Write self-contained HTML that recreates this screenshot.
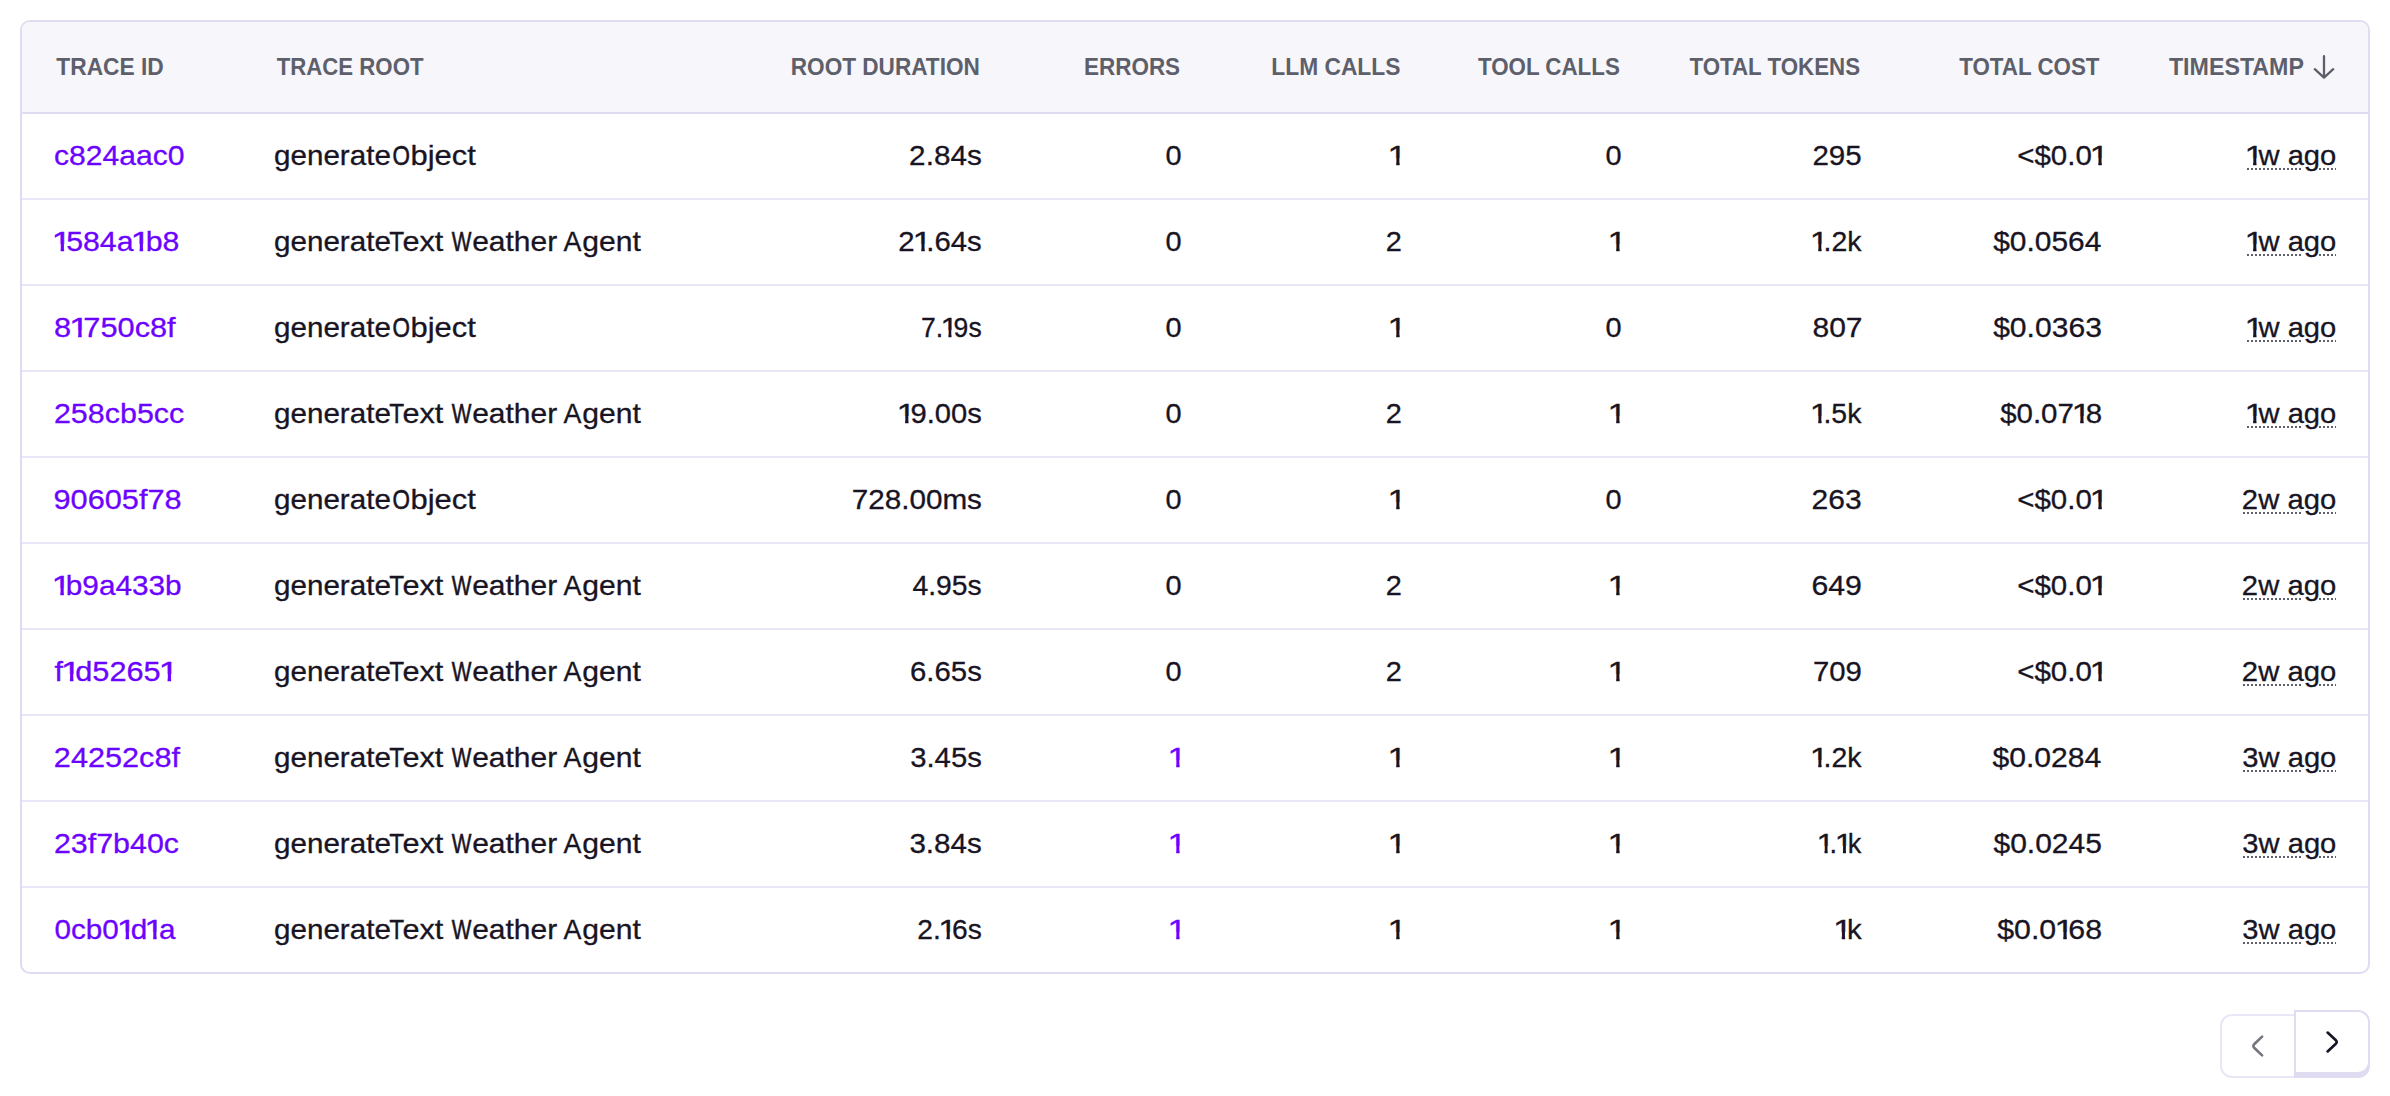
<!DOCTYPE html>
<html lang="en">
<head>
<meta charset="utf-8">
<meta name="viewport" content="width=device-width, initial-scale=1">
<title>Traces</title>
<style>
*{box-sizing:border-box;margin:0;padding:0}
html,body{width:2390px;height:1096px;background:#fff;overflow:hidden}
@media (min-resolution:2dppx) and (max-width:1200px){html{zoom:.5}}
body{font-family:"Liberation Sans",sans-serif;font-size:28px;color:#181423}
a{color:inherit;text-decoration:none}
.page{position:relative;width:2390px;height:1096px}
.panel{position:absolute;left:20px;top:20px;width:2350px;height:954px;border:2px solid #dfdcf1;border-radius:10px;overflow:hidden;background:#fff}
.grid{width:2346px;border-collapse:separate;border-spacing:0;table-layout:fixed}
.grid th,.grid td{padding:0;white-space:nowrap;vertical-align:top;font-weight:400;text-align:left}
.cell{display:flex;align-items:flex-start;justify-content:flex-start;padding:0 32px;white-space:nowrap}
.num .cell{justify-content:flex-end}
.grid th{height:92px;background:#f7f6fb;border-bottom:2px solid #dfdcf1}
.grid th .cell{height:90px;line-height:90px;font-size:24px;font-weight:700;text-transform:uppercase;color:#5d606b}
.grid td{height:86px;border-bottom:2px solid #e9e6f7}
.grid td .cell{height:84px;line-height:84px;-webkit-text-stroke:0.3px currentColor}
.grid tbody tr:last-child td{border-bottom:0;height:84px}
.t{display:block;flex:none;transform-origin:0 51px;white-space:nowrap}
.num .t{transform-origin:100% 51px}
.t + .t{margin-left:9px}
.cap{-webkit-text-stroke-width:0.6px}
.link{color:#6b03ff}
.d1{display:inline-block;width:11.2px;height:84px;vertical-align:baseline;transform-origin:0 0;transform:translateX(-2.25px) scaleX(1.2);clip-path:polygon(-4px 0,18px 0,18px 44px,9.62px 44px,9.62px 60px,6.94px 60px,6.94px 44px,-4px 44px)}
.ts .cell{--dots:repeating-linear-gradient(90deg,#5d606b 0,#5d606b 2px,transparent 2px,transparent 4px);background:var(--dots) right 0 top 54px/17px 2px no-repeat content-box,var(--dots) right 33px top 54px/calc(var(--w) - 33px) 2px no-repeat content-box}
.arrow{display:block;flex:none;margin:33px 0 0 8px;fill:none;stroke:#5d606b;stroke-width:2.3;stroke-linecap:round;stroke-linejoin:round}
.pager{position:absolute;left:2220px;top:1010px;width:150px;height:68px}
.pbtn{position:absolute;display:block;appearance:none;-webkit-appearance:none;font:inherit;background:#fff;cursor:pointer}
.pbtn svg{position:absolute;fill:none;stroke-width:2.7;stroke-linecap:round;stroke-linejoin:round}
.prev{left:0;top:4px;width:76px;height:64px;border:2px solid #e9e6f7;border-right:0;border-radius:12px 0 0 12px}
.prev svg{left:22px;top:16px;stroke:#757780}
.next{left:74px;top:0;width:76px;height:64px;border:2px solid #dfdcf1;border-radius:0 12px 12px 0;box-shadow:0 4px 0 0 #dfdcf1}
.next svg{left:22px;top:16px;stroke:#181423}
</style>
</head>
<body>
<main class="page">
<div class="panel">
<table class="grid">
<colgroup><col style="width:220px"><col style="width:530px"><col style="width:240px"><col style="width:200px"><col style="width:220px"><col style="width:220px"><col style="width:240px"><col style="width:240px"><col style="width:236px"></colgroup>
<thead>
<tr>
<th class="txt"><div class="cell"><span class="t" style="transform:translateX(2.34px) scaleX(0.9482)">TRACE ID</span></div></th>
<th class="txt"><div class="cell"><span class="t" style="transform:translateX(2.70px) scaleX(0.9251)">TRACE ROOT</span></div></th>
<th class="num"><div class="cell"><span class="t" style="transform:translateX(-0.06px) scaleX(0.9412)">ROOT DURATION</span></div></th>
<th class="num"><div class="cell"><span class="t" style="transform:translateX(0.41px) scaleX(0.9360)">ERRORS</span></div></th>
<th class="num"><div class="cell"><span class="t" style="transform:translateX(0.40px) scaleX(0.9493)">LLM CALLS</span></div></th>
<th class="num"><div class="cell"><span class="t" style="transform:translateX(-0.67px) scaleX(0.9302)">TOOL CALLS</span></div></th>
<th class="num"><div class="cell"><span class="t" style="transform:translateX(0.47px) scaleX(0.9295)">TOTAL TOKENS</span></div></th>
<th class="num"><div class="cell"><span class="t" style="transform:translateX(-0.21px) scaleX(0.9306)">TOTAL COST</span></div></th>
<th class="num" aria-sort="descending"><div class="cell"><span class="t" style="transform:translateX(0.39px) scaleX(0.9675)">TIMESTAMP</span><svg class="arrow" viewBox="0 0 24 24" width="24" height="24" aria-hidden="true"><path d="M12 1.2V22.7M2.8 14.2L12 22.7L21.2 14.2"/></svg></div></th>
</tr>
</thead>
<tbody>
<tr>
<td class="txt"><div class="cell"><a class="t link" href="#" style="transform:translateX(-0.05px) scale(1.0756,1.015)">c824aac0</a></div></td>
<td class="txt"><div class="cell"><span class="t" style="transform:translateX(-0.00px) scaleX(1.0574)">generate</span><span class="t cap" style="transform:translateX(-1.55px) scaleX(0.8009)">O</span><span class="t" style="transform:translateX(-13.52px) scaleX(1.1057)">bject</span></div></td>
<td class="num"><div class="cell"><span class="t" style="transform:translateX(1.33px) scale(1.0615,1.015)">2.84s</span></div></td>
<td class="num"><div class="cell"><span class="t" style="transform:translateX(1.90px) scale(1.0319,1.015)">0</span></div></td>
<td class="num"><div class="cell"><span class="t" style="transform:translateX(1.35px) scale(1.0404,1.015)"><span class="d1">1</span></span></div></td>
<td class="num"><div class="cell"><span class="t" style="transform:translateX(1.90px) scale(1.0319,1.015)">0</span></div></td>
<td class="num"><div class="cell"><span class="t" style="transform:translateX(1.99px) scale(1.0542,1.015)">295</span></div></td>
<td class="num"><div class="cell"><span class="t" style="transform:translateX(3.54px) scale(1.0523,1.015)">&lt;$0.0<span class="d1">1</span></span></div></td>
<td class="num ts"><div class="cell" style="--w:89px"><time class="t ago" style="transform:translateX(0.39px) scale(1.0416,1.015)"><span class="d1">1</span>w ago</time></div></td>
</tr>
<tr>
<td class="txt"><div class="cell"><a class="t link" href="#" style="transform:translateX(0.04px) scale(1.0822,1.015)"><span class="d1">1</span>584a<span class="d1">1</span>b8</a></div></td>
<td class="txt"><div class="cell"><span class="t" style="transform:translateX(-0.00px) scaleX(1.0574)">generate</span><span class="t" style="transform:translateX(-4.75px) scaleX(0.8725)">T</span><span class="t" style="transform:translateX(-17.62px) scaleX(1.0950)">ext</span> <span class="t cap" style="transform:translateX(-14.37px) scaleX(0.7446)">W</span><span class="t" style="transform:translateX(-28.83px) scaleX(1.0700)">eather</span> <span class="t" style="transform:translateX(-26.61px) scaleX(0.9620)">A</span><span class="t" style="transform:translateX(-35.64px) scaleX(1.0754)">gent</span></div></td>
<td class="num"><div class="cell"><span class="t" style="transform:translateX(2.07px) scale(1.0489,1.015)">2<span class="d1">1</span>.64s</span></div></td>
<td class="num"><div class="cell"><span class="t" style="transform:translateX(1.90px) scale(1.0319,1.015)">0</span></div></td>
<td class="num"><div class="cell"><span class="t" style="transform:translateX(2.20px) scale(1.0344,1.015)">2</span></div></td>
<td class="num"><div class="cell"><span class="t" style="transform:translateX(1.35px) scale(1.0404,1.015)"><span class="d1">1</span></span></div></td>
<td class="num"><div class="cell"><span class="t" style="transform:translateX(1.91px) scale(1.0168,1.015)"><span class="d1">1</span>.2k</span></div></td>
<td class="num"><div class="cell"><span class="t" style="transform:translateX(1.13px) scale(1.0687,1.015)">$0.0564</span></div></td>
<td class="num ts"><div class="cell" style="--w:89px"><time class="t ago" style="transform:translateX(0.39px) scale(1.0416,1.015)"><span class="d1">1</span>w ago</time></div></td>
</tr>
<tr>
<td class="txt"><div class="cell"><a class="t link" href="#" style="transform:translateX(-0.09px) scale(1.0985,1.015)">8<span class="d1">1</span>750c8f</a></div></td>
<td class="txt"><div class="cell"><span class="t" style="transform:translateX(-0.00px) scaleX(1.0574)">generate</span><span class="t cap" style="transform:translateX(-1.55px) scaleX(0.8009)">O</span><span class="t" style="transform:translateX(-13.52px) scaleX(1.1057)">bject</span></div></td>
<td class="num"><div class="cell"><span class="t" style="transform:translateX(1.53px) scale(0.9477,1.015)">7.<span class="d1">1</span>9s</span></div></td>
<td class="num"><div class="cell"><span class="t" style="transform:translateX(1.90px) scale(1.0319,1.015)">0</span></div></td>
<td class="num"><div class="cell"><span class="t" style="transform:translateX(1.35px) scale(1.0404,1.015)"><span class="d1">1</span></span></div></td>
<td class="num"><div class="cell"><span class="t" style="transform:translateX(1.90px) scale(1.0319,1.015)">0</span></div></td>
<td class="num"><div class="cell"><span class="t" style="transform:translateX(2.84px) scale(1.0724,1.015)">807</span></div></td>
<td class="num"><div class="cell"><span class="t" style="transform:translateX(1.70px) scale(1.0747,1.015)">$0.0363</span></div></td>
<td class="num ts"><div class="cell" style="--w:89px"><time class="t ago" style="transform:translateX(0.39px) scale(1.0416,1.015)"><span class="d1">1</span>w ago</time></div></td>
</tr>
<tr>
<td class="txt"><div class="cell"><a class="t link" href="#" style="transform:translateX(-0.11px) scale(1.0879,1.015)">258cb5cc</a></div></td>
<td class="txt"><div class="cell"><span class="t" style="transform:translateX(-0.00px) scaleX(1.0574)">generate</span><span class="t" style="transform:translateX(-4.75px) scaleX(0.8725)">T</span><span class="t" style="transform:translateX(-17.62px) scaleX(1.0950)">ext</span> <span class="t cap" style="transform:translateX(-14.37px) scaleX(0.7446)">W</span><span class="t" style="transform:translateX(-28.83px) scaleX(1.0700)">eather</span> <span class="t" style="transform:translateX(-26.61px) scaleX(0.9620)">A</span><span class="t" style="transform:translateX(-35.64px) scaleX(1.0754)">gent</span></div></td>
<td class="num"><div class="cell"><span class="t" style="transform:translateX(2.06px) scale(1.0408,1.015)"><span class="d1">1</span>9.00s</span></div></td>
<td class="num"><div class="cell"><span class="t" style="transform:translateX(1.90px) scale(1.0319,1.015)">0</span></div></td>
<td class="num"><div class="cell"><span class="t" style="transform:translateX(2.20px) scale(1.0344,1.015)">2</span></div></td>
<td class="num"><div class="cell"><span class="t" style="transform:translateX(1.35px) scale(1.0404,1.015)"><span class="d1">1</span></span></div></td>
<td class="num"><div class="cell"><span class="t" style="transform:translateX(1.84px) scale(1.0150,1.015)"><span class="d1">1</span>.5k</span></div></td>
<td class="num"><div class="cell"><span class="t" style="transform:translateX(2.24px) scale(1.0527,1.015)">$0.07<span class="d1">1</span>8</span></div></td>
<td class="num ts"><div class="cell" style="--w:89px"><time class="t ago" style="transform:translateX(0.39px) scale(1.0416,1.015)"><span class="d1">1</span>w ago</time></div></td>
</tr>
<tr>
<td class="txt"><div class="cell"><a class="t link" href="#" style="transform:translateX(-0.52px) scale(1.0973,1.015)">90605f78</a></div></td>
<td class="txt"><div class="cell"><span class="t" style="transform:translateX(-0.00px) scaleX(1.0574)">generate</span><span class="t cap" style="transform:translateX(-1.55px) scaleX(0.8009)">O</span><span class="t" style="transform:translateX(-13.52px) scaleX(1.1057)">bject</span></div></td>
<td class="num"><div class="cell"><span class="t" style="transform:translateX(1.96px) scale(1.0594,1.015)">728.00ms</span></div></td>
<td class="num"><div class="cell"><span class="t" style="transform:translateX(1.90px) scale(1.0319,1.015)">0</span></div></td>
<td class="num"><div class="cell"><span class="t" style="transform:translateX(1.35px) scale(1.0404,1.015)"><span class="d1">1</span></span></div></td>
<td class="num"><div class="cell"><span class="t" style="transform:translateX(1.90px) scale(1.0319,1.015)">0</span></div></td>
<td class="num"><div class="cell"><span class="t" style="transform:translateX(2.05px) scale(1.0734,1.015)">263</span></div></td>
<td class="num"><div class="cell"><span class="t" style="transform:translateX(3.54px) scale(1.0523,1.015)">&lt;$0.0<span class="d1">1</span></span></div></td>
<td class="num ts"><div class="cell" style="--w:93px"><time class="t ago" style="transform:translateX(-0.10px) scale(1.0447,1.015)">2w ago</time></div></td>
</tr>
<tr>
<td class="txt"><div class="cell"><a class="t link" href="#" style="transform:translateX(-0.05px) scale(1.0621,1.015)"><span class="d1">1</span>b9a433b</a></div></td>
<td class="txt"><div class="cell"><span class="t" style="transform:translateX(-0.00px) scaleX(1.0574)">generate</span><span class="t" style="transform:translateX(-4.75px) scaleX(0.8725)">T</span><span class="t" style="transform:translateX(-17.62px) scaleX(1.0950)">ext</span> <span class="t cap" style="transform:translateX(-14.37px) scaleX(0.7446)">W</span><span class="t" style="transform:translateX(-28.83px) scaleX(1.0700)">eather</span> <span class="t" style="transform:translateX(-26.61px) scaleX(0.9620)">A</span><span class="t" style="transform:translateX(-35.64px) scaleX(1.0754)">gent</span></div></td>
<td class="num"><div class="cell"><span class="t" style="transform:translateX(1.21px) scale(1.0111,1.015)">4.95s</span></div></td>
<td class="num"><div class="cell"><span class="t" style="transform:translateX(1.90px) scale(1.0319,1.015)">0</span></div></td>
<td class="num"><div class="cell"><span class="t" style="transform:translateX(2.20px) scale(1.0344,1.015)">2</span></div></td>
<td class="num"><div class="cell"><span class="t" style="transform:translateX(1.35px) scale(1.0404,1.015)"><span class="d1">1</span></span></div></td>
<td class="num"><div class="cell"><span class="t" style="transform:translateX(2.16px) scale(1.0805,1.015)">649</span></div></td>
<td class="num"><div class="cell"><span class="t" style="transform:translateX(3.54px) scale(1.0523,1.015)">&lt;$0.0<span class="d1">1</span></span></div></td>
<td class="num ts"><div class="cell" style="--w:93px"><time class="t ago" style="transform:translateX(-0.10px) scale(1.0447,1.015)">2w ago</time></div></td>
</tr>
<tr>
<td class="txt"><div class="cell"><a class="t link" href="#" style="transform:translateX(0.44px) scale(1.0975,1.015)">f<span class="d1">1</span>d5265<span class="d1">1</span></a></div></td>
<td class="txt"><div class="cell"><span class="t" style="transform:translateX(-0.00px) scaleX(1.0574)">generate</span><span class="t" style="transform:translateX(-4.75px) scaleX(0.8725)">T</span><span class="t" style="transform:translateX(-17.62px) scaleX(1.0950)">ext</span> <span class="t cap" style="transform:translateX(-14.37px) scaleX(0.7446)">W</span><span class="t" style="transform:translateX(-28.83px) scaleX(1.0700)">eather</span> <span class="t" style="transform:translateX(-26.61px) scaleX(0.9620)">A</span><span class="t" style="transform:translateX(-35.64px) scaleX(1.0754)">gent</span></div></td>
<td class="num"><div class="cell"><span class="t" style="transform:translateX(1.31px) scale(1.0481,1.015)">6.65s</span></div></td>
<td class="num"><div class="cell"><span class="t" style="transform:translateX(1.90px) scale(1.0319,1.015)">0</span></div></td>
<td class="num"><div class="cell"><span class="t" style="transform:translateX(2.20px) scale(1.0344,1.015)">2</span></div></td>
<td class="num"><div class="cell"><span class="t" style="transform:translateX(1.35px) scale(1.0404,1.015)"><span class="d1">1</span></span></div></td>
<td class="num"><div class="cell"><span class="t" style="transform:translateX(2.19px) scale(1.0459,1.015)">709</span></div></td>
<td class="num"><div class="cell"><span class="t" style="transform:translateX(3.54px) scale(1.0523,1.015)">&lt;$0.0<span class="d1">1</span></span></div></td>
<td class="num ts"><div class="cell" style="--w:93px"><time class="t ago" style="transform:translateX(-0.10px) scale(1.0447,1.015)">2w ago</time></div></td>
</tr>
<tr>
<td class="txt"><div class="cell"><a class="t link" href="#" style="transform:translateX(-0.14px) scale(1.0950,1.015)">24252c8f</a></div></td>
<td class="txt"><div class="cell"><span class="t" style="transform:translateX(-0.00px) scaleX(1.0574)">generate</span><span class="t" style="transform:translateX(-4.75px) scaleX(0.8725)">T</span><span class="t" style="transform:translateX(-17.62px) scaleX(1.0950)">ext</span> <span class="t cap" style="transform:translateX(-14.37px) scaleX(0.7446)">W</span><span class="t" style="transform:translateX(-28.83px) scaleX(1.0700)">eather</span> <span class="t" style="transform:translateX(-26.61px) scaleX(0.9620)">A</span><span class="t" style="transform:translateX(-35.64px) scaleX(1.0754)">gent</span></div></td>
<td class="num"><div class="cell"><span class="t" style="transform:translateX(1.30px) scale(1.0449,1.015)">3.45s</span></div></td>
<td class="num"><div class="cell"><a class="t link" href="#" style="transform:translateX(1.34px) scale(1.0349,1.015)"><span class="d1">1</span></a></div></td>
<td class="num"><div class="cell"><span class="t" style="transform:translateX(1.35px) scale(1.0404,1.015)"><span class="d1">1</span></span></div></td>
<td class="num"><div class="cell"><span class="t" style="transform:translateX(1.35px) scale(1.0404,1.015)"><span class="d1">1</span></span></div></td>
<td class="num"><div class="cell"><span class="t" style="transform:translateX(1.91px) scale(1.0168,1.015)"><span class="d1">1</span>.2k</span></div></td>
<td class="num"><div class="cell"><span class="t" style="transform:translateX(1.12px) scale(1.0762,1.015)">$0.0284</span></div></td>
<td class="num ts"><div class="cell" style="--w:93px"><time class="t ago" style="transform:translateX(0.05px) scale(1.0416,1.015)">3w ago</time></div></td>
</tr>
<tr>
<td class="txt"><div class="cell"><a class="t link" href="#" style="transform:translateX(-0.12px) scale(1.0861,1.015)">23f7b40c</a></div></td>
<td class="txt"><div class="cell"><span class="t" style="transform:translateX(-0.00px) scaleX(1.0574)">generate</span><span class="t" style="transform:translateX(-4.75px) scaleX(0.8725)">T</span><span class="t" style="transform:translateX(-17.62px) scaleX(1.0950)">ext</span> <span class="t cap" style="transform:translateX(-14.37px) scaleX(0.7446)">W</span><span class="t" style="transform:translateX(-28.83px) scaleX(1.0700)">eather</span> <span class="t" style="transform:translateX(-26.61px) scaleX(0.9620)">A</span><span class="t" style="transform:translateX(-35.64px) scaleX(1.0754)">gent</span></div></td>
<td class="num"><div class="cell"><span class="t" style="transform:translateX(1.33px) scale(1.0574,1.015)">3.84s</span></div></td>
<td class="num"><div class="cell"><a class="t link" href="#" style="transform:translateX(1.34px) scale(1.0349,1.015)"><span class="d1">1</span></a></div></td>
<td class="num"><div class="cell"><span class="t" style="transform:translateX(1.35px) scale(1.0404,1.015)"><span class="d1">1</span></span></div></td>
<td class="num"><div class="cell"><span class="t" style="transform:translateX(1.35px) scale(1.0404,1.015)"><span class="d1">1</span></span></div></td>
<td class="num"><div class="cell"><span class="t" style="transform:translateX(1.23px) scale(0.9681,1.015)"><span class="d1">1</span>.<span class="d1">1</span>k</span></div></td>
<td class="num"><div class="cell"><span class="t" style="transform:translateX(1.66px) scale(1.0709,1.015)">$0.0245</span></div></td>
<td class="num ts"><div class="cell" style="--w:93px"><time class="t ago" style="transform:translateX(0.05px) scale(1.0416,1.015)">3w ago</time></div></td>
</tr>
<tr>
<td class="txt"><div class="cell"><a class="t link" href="#" style="transform:translateX(0.48px) scale(1.0605,1.015)">0cb0<span class="d1">1</span>d<span class="d1">1</span>a</a></div></td>
<td class="txt"><div class="cell"><span class="t" style="transform:translateX(-0.00px) scaleX(1.0574)">generate</span><span class="t" style="transform:translateX(-4.75px) scaleX(0.8725)">T</span><span class="t" style="transform:translateX(-17.62px) scaleX(1.0950)">ext</span> <span class="t cap" style="transform:translateX(-14.37px) scaleX(0.7446)">W</span><span class="t" style="transform:translateX(-28.83px) scaleX(1.0700)">eather</span> <span class="t" style="transform:translateX(-26.61px) scaleX(0.9620)">A</span><span class="t" style="transform:translateX(-35.64px) scaleX(1.0754)">gent</span></div></td>
<td class="num"><div class="cell"><span class="t" style="transform:translateX(1.76px) scale(1.0083,1.015)">2.<span class="d1">1</span>6s</span></div></td>
<td class="num"><div class="cell"><a class="t link" href="#" style="transform:translateX(1.34px) scale(1.0349,1.015)"><span class="d1">1</span></a></div></td>
<td class="num"><div class="cell"><span class="t" style="transform:translateX(1.35px) scale(1.0404,1.015)"><span class="d1">1</span></span></div></td>
<td class="num"><div class="cell"><span class="t" style="transform:translateX(1.35px) scale(1.0404,1.015)"><span class="d1">1</span></span></div></td>
<td class="num"><div class="cell"><span class="t" style="transform:translateX(1.61px) scale(1.0489,1.015)"><span class="d1">1</span>k</span></div></td>
<td class="num"><div class="cell"><span class="t" style="transform:translateX(2.15px) scale(1.0816,1.015)">$0.0<span class="d1">1</span>68</span></div></td>
<td class="num ts"><div class="cell" style="--w:93px"><time class="t ago" style="transform:translateX(0.05px) scale(1.0416,1.015)">3w ago</time></div></td>
</tr>
</tbody>
</table>
</div>
<nav class="pager" aria-label="Pagination">
<button class="pbtn prev" type="button" disabled aria-label="Previous"><svg viewBox="0 0 28 28" width="28" height="28" aria-hidden="true"><path d="M18.1 4.6L10.4 12Q8.3 14 10.4 16L18.1 23.4"/></svg></button>
<button class="pbtn next" type="button" aria-label="Next"><svg viewBox="0 0 28 28" width="28" height="28" aria-hidden="true"><path d="M9.6 4.6L17.6 12Q19.8 14 17.6 16L9.6 23.4"/></svg></button>
</nav>
</main>
</body>
</html>
